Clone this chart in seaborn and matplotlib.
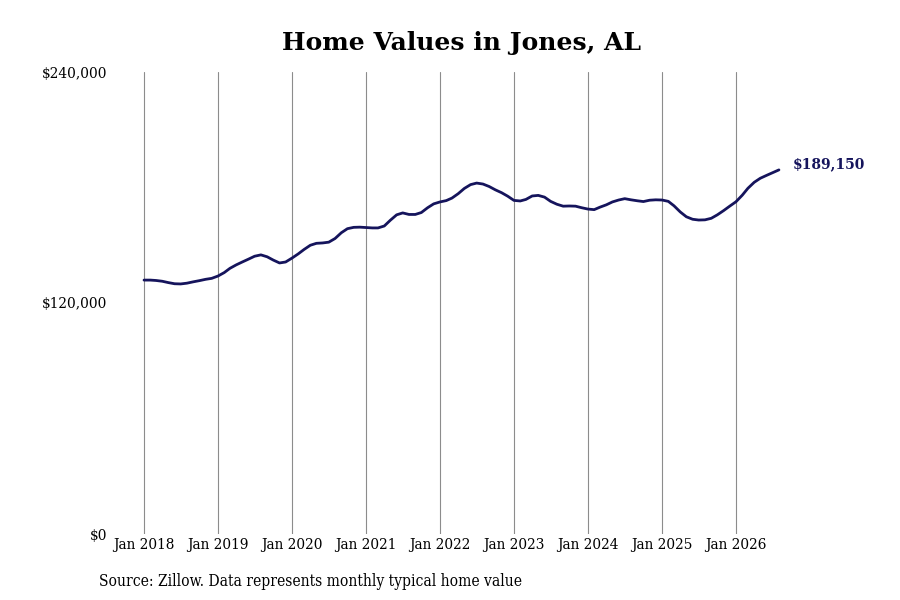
import pandas as pd
import matplotlib
matplotlib.use("Agg")
import matplotlib.pyplot as plt
import matplotlib.dates as mdates
import seaborn as sns

# === Données (en milliers de $) ===
start_month = "2018-01-01"
values_2018 = [131.9, 131.9, 131.7, 131.3, 130.6, 130.0, 129.9, 130.3, 131.0, 131.6, 132.3, 132.8]
values_2019 = [134.0, 135.8, 138.0, 139.8, 141.3, 142.8, 144.3, 145.0, 144.0, 142.3, 140.8, 141.3]
values_2020 = [143.3, 145.5, 147.8, 150.0, 151.0, 151.2, 151.6, 153.5, 156.5, 158.6, 159.3, 159.4]
values_2021 = [159.2, 159.0, 159.0, 160.0, 163.0, 165.8, 166.8, 166.0, 166.0, 167.0, 169.5, 171.5]
values_2022 = [172.5, 173.2, 174.5, 176.8, 179.5, 181.5, 182.3, 181.8, 180.5, 178.8, 177.3, 175.5]
values_2023 = [173.3, 173.0, 173.8, 175.6, 175.9, 175.0, 172.8, 171.3, 170.3, 170.4, 170.3, 169.5]
values_2024 = [168.8, 168.5, 169.8, 171.0, 172.5, 173.5, 174.2, 173.6, 173.1, 172.7, 173.4, 173.6]
values_2025 = [173.5, 172.8, 170.5, 167.3, 164.8, 163.5, 163.1, 163.2, 164.0, 165.8, 168.0, 170.3]
values_2026 = [172.6, 176.0, 179.6, 182.7, 184.8, 186.3, 187.7, 189.15]

tick_years = list(range(2018, 2027))
y_ticks = [0, 120000, 240000]
y_labels = ["$0", "$120,000", "$240,000"]

title = "Home Values in Jones, AL"
source = "Source: Zillow. Data represents monthly typical home value"
line_color = "#15145c"

# === Table ===
all_values = (values_2018 + values_2019 + values_2020 + values_2021 + values_2022
              + values_2023 + values_2024 + values_2025 + values_2026)
df = pd.DataFrame({
    "date": pd.date_range(start_month, periods=len(all_values), freq="MS"),
    "value": [v * 1000 for v in all_values],
})

# === Graphique ===
sns.set_theme(style="white")
plt.rcParams["font.family"] = ["DejaVu Serif", "DejaVu Sans"]
plt.rcParams["font.stretch"] = "condensed"

fig = plt.figure(figsize=(9, 6), dpi=100)
ax = fig.add_axes([120 / 900, 66 / 600, 670 / 900, 462 / 600])

sns.lineplot(data=df, x="date", y="value", color=line_color, linewidth=2.0, ax=ax, zorder=3)

ticks = [pd.Timestamp(f"{y}-01-01") for y in tick_years]
ax.set_xticks(ticks)
ax.set_xticklabels([f"Jan {y}" for y in tick_years], fontsize=11, color="black")
x0 = mdates.date2num(pd.Timestamp("2018-01-01"))
x1 = mdates.date2num(pd.Timestamp("2026-01-01"))
px_per_day = (735.7 - 144) / (x1 - x0)
ax.set_xlim(x0 - 24 / px_per_day, x1 + 54 / px_per_day)

ax.set_ylim(0, 240000)
ax.set_yticks(y_ticks)
ax.set_yticklabels(y_labels, fontsize=11, color="black")

for t in ticks:
    ax.axvline(t, color="#8c8c8c", linewidth=0.8, zorder=1)

ax.tick_params(axis="y", length=0, pad=9)
ax.tick_params(axis="x", length=0, pad=3)
ax.set_xlabel("")
ax.set_ylabel("")
for s in ax.spines.values():
    s.set_visible(False)

last = df.iloc[-1]
ax.annotate(f"${last['value']:,.0f}", xy=(last["date"], last["value"]),
            xytext=(10, 4), textcoords="offset points",
            ha="left", va="center", fontsize=10, fontweight="bold", color=line_color,
            fontstretch="normal")

fig.text(461 / 900, 1 - 43 / 600, title, ha="center", va="center",
         fontsize=18, fontweight="bold", color="black", fontstretch="normal")
fig.text(99 / 900, 1 - 582 / 600, source, ha="left", va="center",
         fontsize=11.2, color="black")

fig.savefig("out.png", dpi=100)
plt.close(fig)
